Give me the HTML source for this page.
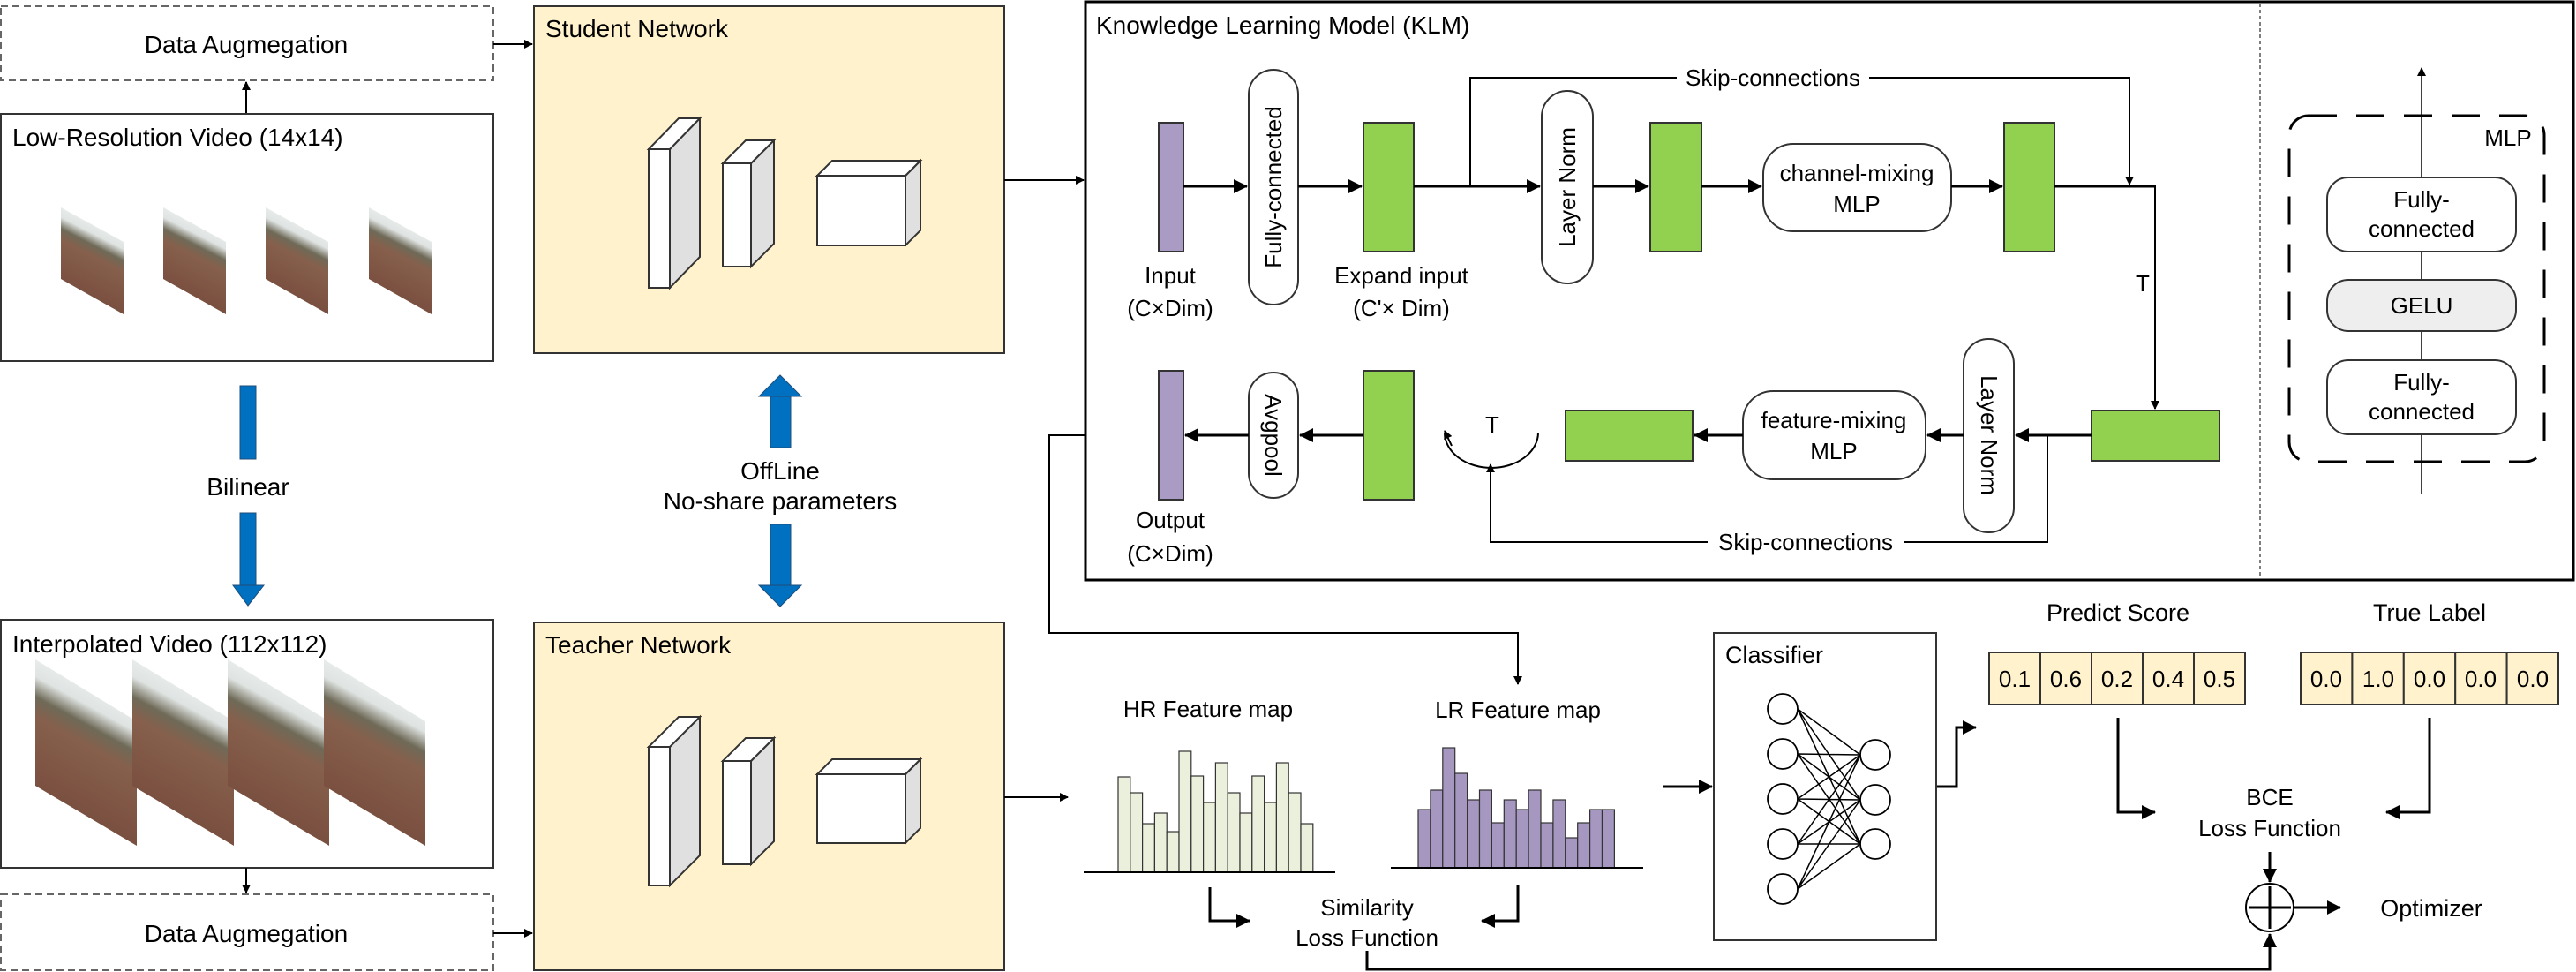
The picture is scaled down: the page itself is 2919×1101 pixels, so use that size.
<!DOCTYPE html>
<html><head><meta charset="utf-8"><style>
html,body{margin:0;padding:0;background:#fff;}
svg{display:block;}
text{font-family:"Liberation Sans",Arial,sans-serif;fill:#000;}
</style></head><body>
<svg width="2919" height="1101" viewBox="0 0 2919 1101" xmlns="http://www.w3.org/2000/svg">
<defs>
<marker id="a" markerWidth="10" markerHeight="10" refX="9" refY="5" orient="auto" markerUnits="userSpaceOnUse" viewBox="0 0 10 10"><path d="M0,0 L10,5 L0,10 z" fill="#000"/></marker>
<marker id="b" markerWidth="16" markerHeight="16" refX="15" refY="8" orient="auto" markerUnits="userSpaceOnUse" viewBox="0 0 16 16"><path d="M0,0 L16,8 L0,16 z" fill="#000"/></marker>
<linearGradient id="img" x1="0.5" y1="0" x2="0.2" y2="1">
<stop offset="0" stop-color="#f4f6f6"/><stop offset="0.22" stop-color="#dfe4e2"/><stop offset="0.32" stop-color="#6f6a58"/><stop offset="0.42" stop-color="#86604c"/><stop offset="0.7" stop-color="#7d5242"/><stop offset="1" stop-color="#6e4a3c"/></linearGradient>
</defs>

<!-- left top -->
<rect x="1" y="7" width="558" height="84" fill="#fff" stroke="#666" stroke-width="2" stroke-dasharray="8,5"/>
<text x="279" y="60" font-size="28" text-anchor="middle">Data Augmegation</text>
<line x1="279" y1="129" x2="279" y2="93" stroke="#000" stroke-width="2" marker-end="url(#a)"/>
<rect x="1" y="129" width="558" height="280" fill="#fff" stroke="#333" stroke-width="2"/>
<text x="14" y="165" font-size="28">Low-Resolution Video (14x14)</text>
<g fill="url(#img)">
<polygon points="69,235 140,274 140,356 69,316"/>
<polygon points="185,235 256,274 256,356 185,316"/>
<polygon points="301,235 372,274 372,356 301,316"/>
<polygon points="418,235 489,274 489,356 418,316"/>
</g>
<line x1="559" y1="50" x2="603" y2="50" stroke="#000" stroke-width="2" marker-end="url(#a)"/>

<!-- Student -->
<rect x="605" y="7" width="533" height="393" fill="#fff2cc" stroke="#333" stroke-width="2"/>
<text x="618" y="42" font-size="28">Student Network</text>
<g stroke="#333" stroke-width="2">
<polygon points="759,169 793,134 793,291 759,326" fill="#e0e0e0"/><polygon points="735,169 759,169 793,134 769,134" fill="#fff"/><rect x="735" y="169" width="24" height="157" fill="#fff"/>
<polygon points="851,185 877,159 877,276 851,302" fill="#e0e0e0"/><polygon points="819,185 851,185 877,159 845,159" fill="#fff"/><rect x="819" y="185" width="32" height="117" fill="#fff"/>
<polygon points="1026,199 1043,182 1043,261 1026,278" fill="#e0e0e0"/><polygon points="926,199 1026,199 1043,182 943,182" fill="#fff"/><rect x="926" y="199" width="100" height="79" fill="#fff"/>
</g>
<line x1="1138" y1="204" x2="1228" y2="204" stroke="#000" stroke-width="2" marker-end="url(#a)"/>

<!-- Blue arrows -->
<g fill="#0070c0" stroke="#1f4e79" stroke-width="1">
<rect x="272" y="437" width="18" height="83"/>
<rect x="272" y="581" width="18" height="82"/><polygon points="264,663 299,663 281,686"/>
<polygon points="860,449 908,449 884,425"/><rect x="873" y="449" width="23" height="58"/>
<rect x="873" y="594" width="23" height="69"/><polygon points="860,663 908,663 884,687"/>
</g>
<text x="281" y="561" font-size="28" text-anchor="middle">Bilinear</text>
<text x="884" y="543" font-size="28" text-anchor="middle">OffLine</text>
<text x="884" y="577" font-size="28" text-anchor="middle">No-share parameters</text>

<!-- Interpolated -->
<rect x="1" y="702" width="558" height="281" fill="#fff" stroke="#333" stroke-width="2"/>
<text x="14" y="739" font-size="28">Interpolated Video (112x112)</text>
<g fill="url(#img)">
<polygon points="40,747 155,817 155,958 40,890"/>
<polygon points="150,747 265,817 265,958 150,890"/>
<polygon points="258,747 373,817 373,958 258,890"/>
<polygon points="367,747 482,817 482,958 367,890"/>
</g>
<line x1="279" y1="983" x2="279" y2="1011" stroke="#000" stroke-width="2" marker-end="url(#a)"/>
<rect x="1" y="1013" width="558" height="86" fill="#fff" stroke="#666" stroke-width="2" stroke-dasharray="8,5"/>
<text x="279" y="1067" font-size="28" text-anchor="middle">Data Augmegation</text>
<line x1="559" y1="1057" x2="603" y2="1057" stroke="#000" stroke-width="2" marker-end="url(#a)"/>

<!-- Teacher -->
<rect x="605" y="705" width="533" height="394" fill="#fff2cc" stroke="#333" stroke-width="2"/>
<text x="618" y="740" font-size="28">Teacher Network</text>
<g stroke="#333" stroke-width="2">
<polygon points="759,846 793,812 793,969 759,1003" fill="#e0e0e0"/><polygon points="735,846 759,846 793,812 769,812" fill="#fff"/><rect x="735" y="846" width="24" height="157" fill="#fff"/>
<polygon points="851,862 877,836 877,953 851,979" fill="#e0e0e0"/><polygon points="819,862 851,862 877,836 845,836" fill="#fff"/><rect x="819" y="862" width="32" height="117" fill="#fff"/>
<polygon points="1026,877 1043,860 1043,938 1026,955" fill="#e0e0e0"/><polygon points="926,877 1026,877 1043,860 943,860" fill="#fff"/><rect x="926" y="877" width="100" height="78" fill="#fff"/>
</g>
<line x1="1138" y1="903" x2="1210" y2="903" stroke="#000" stroke-width="2" marker-end="url(#a)"/>

<!-- KLM -->
<rect x="1230" y="2" width="1686" height="655" fill="#fff" stroke="#000" stroke-width="3"/>
<line x1="2561" y1="4" x2="2561" y2="655" stroke="#555" stroke-width="1.5" stroke-dasharray="4,3"/>
<text x="1242" y="38" font-size="28">Knowledge Learning Model (KLM)</text>
<g stroke="#333" stroke-width="2">
<rect x="1313" y="139" width="28" height="146" fill="#a99bc4"/>
<rect x="1415" y="79" width="56" height="266" rx="28" fill="#fff"/>
<rect x="1545" y="139" width="57" height="146" fill="#92d050"/>
<rect x="1747" y="103" width="58" height="218" rx="29" fill="#fff"/>
<rect x="1870" y="139" width="58" height="146" fill="#92d050"/>
<rect x="1998" y="163" width="213" height="99" rx="34" fill="#fff"/>
<rect x="2271" y="139" width="57" height="146" fill="#92d050"/>
<rect x="2370" y="465" width="145" height="57" fill="#92d050"/>
<rect x="2225" y="384" width="57" height="219" rx="28" fill="#fff"/>
<rect x="1975" y="443" width="207" height="100" rx="34" fill="#fff"/>
<rect x="1774" y="465" width="144" height="57" fill="#92d050"/>
<rect x="1545" y="420" width="57" height="146" fill="#92d050"/>
<rect x="1415" y="422" width="56" height="142" rx="28" fill="#fff"/>
<rect x="1313" y="420" width="28" height="146" fill="#a99bc4"/>
</g>
<text transform="translate(1452,212) rotate(-90)" font-size="26" text-anchor="middle">Fully-connected</text>
<text transform="translate(1785,212) rotate(-90)" font-size="26" text-anchor="middle">Layer Norm</text>
<text transform="translate(2245,493) rotate(90)" font-size="26" text-anchor="middle">Layer Norm</text>
<text transform="translate(1434,493) rotate(90)" font-size="26" text-anchor="middle">Avgpool</text>
<text x="2104" y="205" font-size="26" text-anchor="middle">channel-mixing</text>
<text x="2104" y="240" font-size="26" text-anchor="middle">MLP</text>
<text x="2078" y="485" font-size="26" text-anchor="middle">feature-mixing</text>
<text x="2078" y="520" font-size="26" text-anchor="middle">MLP</text>
<text x="1326" y="321" font-size="26" text-anchor="middle">Input</text>
<text x="1326" y="358" font-size="26" text-anchor="middle">(C×Dim)</text>
<text x="1588" y="321" font-size="26" text-anchor="middle">Expand input</text>
<text x="1588" y="358" font-size="26" text-anchor="middle">(C'× Dim)</text>
<text x="1326" y="598" font-size="26" text-anchor="middle">Output</text>
<text x="1326" y="636" font-size="26" text-anchor="middle">(C×Dim)</text>
<g stroke="#000" stroke-width="3" fill="none">
<line x1="1341" y1="211" x2="1413" y2="211" marker-end="url(#b)"/>
<line x1="1471" y1="211" x2="1543" y2="211" marker-end="url(#b)"/>
<line x1="1602" y1="211" x2="1745" y2="211" marker-end="url(#b)"/>
<line x1="1805" y1="211" x2="1868" y2="211" marker-end="url(#b)"/>
<line x1="1928" y1="211" x2="1996" y2="211" marker-end="url(#b)"/>
<line x1="2211" y1="211" x2="2269" y2="211" marker-end="url(#b)"/>
<line x1="2328" y1="211" x2="2443" y2="211"/>
<line x1="2370" y1="493" x2="2284" y2="493" marker-end="url(#b)"/>
<line x1="2225" y1="493" x2="2184" y2="493" marker-end="url(#b)"/>
<line x1="1975" y1="493" x2="1920" y2="493" marker-end="url(#b)"/>
<line x1="1545" y1="493" x2="1473" y2="493" marker-end="url(#b)"/>
<line x1="1415" y1="493" x2="1343" y2="493" marker-end="url(#b)"/>
</g>
<g stroke="#000" stroke-width="2" fill="none">
<polyline points="1666,211 1666,88 2413,88 2413,209" marker-end="url(#a)"/>
<line x1="2442" y1="211" x2="2442" y2="463" marker-end="url(#a)"/>
<polyline points="2320,493 2320,614 1689,614 1689,526" marker-end="url(#a)"/>
<path d="M1637,490 A53,40 0 0 0 1743,490"/>
<line x1="1645" y1="505" x2="1637" y2="488" marker-end="url(#a)"/>
<polyline points="1229,493 1189,493 1189,717 1720,717 1720,775" marker-end="url(#a)"/>
</g>
<rect x="1900" y="74" width="218" height="28" fill="#fff"/>
<text x="2009" y="97" font-size="26" text-anchor="middle">Skip-connections</text>
<rect x="1935" y="600" width="222" height="28" fill="#fff"/>
<text x="2046" y="623" font-size="26" text-anchor="middle">Skip-connections</text>
<text x="2428" y="330" font-size="26" text-anchor="middle">T</text>
<text x="1691" y="490" font-size="26" text-anchor="middle">T</text>

<!-- MLP detail -->
<rect x="2594" y="131" width="289" height="392" rx="22" fill="none" stroke="#000" stroke-width="3" stroke-dasharray="32,22"/>
<text x="2842" y="165" font-size="26" text-anchor="middle">MLP</text>
<line x1="2744" y1="560" x2="2744" y2="77" stroke="#000" stroke-width="1.5" marker-end="url(#a)"/>
<g stroke="#333" stroke-width="2">
<rect x="2637" y="201" width="214" height="84" rx="24" fill="#fff"/>
<rect x="2637" y="317" width="214" height="58" rx="24" fill="#eeeeee"/>
<rect x="2637" y="408" width="214" height="84" rx="24" fill="#fff"/>
</g>
<text x="2744" y="235" font-size="26" text-anchor="middle">Fully-</text>
<text x="2744" y="268" font-size="26" text-anchor="middle">connected</text>
<text x="2744" y="355" font-size="26" text-anchor="middle">GELU</text>
<text x="2744" y="442" font-size="26" text-anchor="middle">Fully-</text>
<text x="2744" y="475" font-size="26" text-anchor="middle">connected</text>

<!-- Feature maps -->
<text x="1369" y="812" font-size="26" text-anchor="middle">HR Feature map</text>
<text x="1720" y="813" font-size="26" text-anchor="middle">LR Feature map</text>
<g fill="#ebf0dd" stroke="#333" stroke-width="1.2">
<rect x="1267" y="880" width="13.8" height="108"/><rect x="1280.8" y="898" width="13.8" height="90"/><rect x="1294.6" y="933" width="13.8" height="55"/><rect x="1308.4" y="921" width="13.8" height="67"/><rect x="1322.2" y="942" width="13.8" height="46"/><rect x="1336" y="851" width="13.8" height="137"/><rect x="1349.8" y="879" width="13.8" height="109"/><rect x="1363.6" y="909" width="13.8" height="79"/><rect x="1377.4" y="864" width="13.8" height="124"/><rect x="1391.2" y="898" width="13.8" height="90"/><rect x="1405" y="921" width="13.8" height="67"/><rect x="1418.8" y="879" width="13.8" height="109"/><rect x="1432.6" y="909" width="13.8" height="79"/><rect x="1446.4" y="864" width="13.8" height="124"/><rect x="1460.2" y="898" width="13.8" height="90"/><rect x="1474" y="933" width="13.8" height="55"/>
</g>
<line x1="1228" y1="988" x2="1513" y2="988" stroke="#000" stroke-width="2"/>
<g fill="#a697c0" stroke="#333" stroke-width="1.2">
<rect x="1607" y="917" width="13.9" height="66"/><rect x="1620.9" y="895" width="13.9" height="88"/><rect x="1634.8" y="847" width="13.9" height="136"/><rect x="1648.7" y="876" width="13.9" height="107"/><rect x="1662.6" y="906" width="13.9" height="77"/><rect x="1676.5" y="895" width="13.9" height="88"/><rect x="1690.4" y="932" width="13.9" height="51"/><rect x="1704.3" y="906" width="13.9" height="77"/><rect x="1718.2" y="917" width="13.9" height="66"/><rect x="1732.1" y="895" width="13.9" height="88"/><rect x="1746" y="932" width="13.9" height="51"/><rect x="1759.9" y="906" width="13.9" height="77"/><rect x="1773.8" y="949" width="13.9" height="34"/><rect x="1787.7" y="932" width="13.9" height="51"/><rect x="1801.6" y="917" width="13.9" height="66"/><rect x="1815.5" y="917" width="13.9" height="66"/>
</g>
<line x1="1576" y1="983" x2="1862" y2="983" stroke="#000" stroke-width="2"/>
<g stroke="#000" stroke-width="3" fill="none">
<polyline points="1371,1005 1371,1043 1416,1043" marker-end="url(#b)"/>
<polyline points="1720,1003 1720,1043 1679,1043" marker-end="url(#b)"/>
<line x1="1884" y1="891" x2="1940" y2="891" marker-end="url(#b)"/>
<polyline points="2194,891 2217,891 2217,824 2239,824" marker-end="url(#b)"/>
<polyline points="2400,813 2400,920 2442,920" marker-end="url(#b)"/>
<polyline points="2753,813 2753,920 2704,920" marker-end="url(#b)"/>
<polyline points="1549,1077 1549,1098 2572,1098 2572,1058" marker-end="url(#b)"/>
<line x1="2572" y1="965" x2="2572" y2="999" marker-end="url(#b)"/>
<line x1="2600" y1="1028" x2="2652" y2="1028" marker-end="url(#b)"/>
</g>
<text x="1549" y="1037" font-size="26" text-anchor="middle">Similarity</text>
<text x="1549" y="1071" font-size="26" text-anchor="middle">Loss Function</text>

<!-- Classifier -->
<rect x="1942" y="717" width="252" height="348" fill="#fff" stroke="#333" stroke-width="2"/>
<text x="1955" y="751" font-size="27">Classifier</text>
<g stroke="#000" stroke-width="1.5">
<path d="M2037,803 L2108,855 M2037,803 L2108,906 M2037,803 L2108,956 M2037,854 L2108,855 M2037,854 L2108,906 M2037,854 L2108,956 M2037,905 L2108,855 M2037,905 L2108,906 M2037,905 L2108,956 M2037,956 L2108,855 M2037,956 L2108,906 M2037,956 L2108,956 M2037,1007 L2108,855 M2037,1007 L2108,906 M2037,1007 L2108,956"/>
</g>
<g fill="#fff" stroke="#000" stroke-width="1.8">
<circle cx="2020" cy="803" r="17"/><circle cx="2020" cy="854" r="17"/><circle cx="2020" cy="905" r="17"/><circle cx="2020" cy="956" r="17"/><circle cx="2020" cy="1007" r="17"/>
<circle cx="2125" cy="855" r="17"/><circle cx="2125" cy="906" r="17"/><circle cx="2125" cy="956" r="17"/>
</g>

<!-- Scores -->
<text x="2400" y="703" font-size="27" text-anchor="middle">Predict Score</text>
<text x="2753" y="703" font-size="27" text-anchor="middle">True Label</text>
<g fill="#fff2cc" stroke="#333" stroke-width="2">
<rect x="2254" y="739" width="58" height="59"/><rect x="2312" y="739" width="58" height="59"/><rect x="2370" y="739" width="58" height="59"/><rect x="2428" y="739" width="58" height="59"/><rect x="2486" y="739" width="58" height="59"/>
<rect x="2607" y="739" width="58.4" height="59"/><rect x="2665.4" y="739" width="58.4" height="59"/><rect x="2723.8" y="739" width="58.4" height="59"/><rect x="2782.2" y="739" width="58.4" height="59"/><rect x="2840.6" y="739" width="58.4" height="59"/>
</g>
<g font-size="26" text-anchor="middle">
<text x="2283" y="778">0.1</text><text x="2341" y="778">0.6</text><text x="2399" y="778">0.2</text><text x="2457" y="778">0.4</text><text x="2515" y="778">0.5</text>
<text x="2636" y="778">0.0</text><text x="2695" y="778">1.0</text><text x="2753" y="778">0.0</text><text x="2811" y="778">0.0</text><text x="2870" y="778">0.0</text>
</g>
<text x="2572" y="912" font-size="26" text-anchor="middle">BCE</text>
<text x="2572" y="947" font-size="26" text-anchor="middle">Loss Function</text>
<circle cx="2572" cy="1028" r="27" fill="#fff" stroke="#000" stroke-width="2"/>
<path d="M2548,1028 H2596 M2572,1004 V1052" stroke="#000" stroke-width="3"/>
<text x="2755" y="1038" font-size="27" text-anchor="middle">Optimizer</text>
</svg>
</body></html>
